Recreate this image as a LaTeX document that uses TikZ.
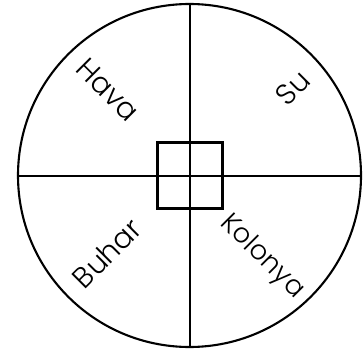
\documentclass[tikz,border=0pt]{standalone}
\usepackage{fontspec}
\newfontfamily\lbl{Poppins Light}
\begin{document}
\begin{tikzpicture}[x=1pt,y=1pt,
  ring/.style={draw, line width=2.1pt},
  axis/.style={draw, line width=2pt},
  box/.style={draw, line width=3pt, minimum size=65pt, inner sep=0pt},
  lab/.style={font=\lbl\fontsize{29}{32}\selectfont, inner sep=0pt}]
\useasboundingbox (0,0) rectangle (364,354);
\coordinate (C) at (189.5,178.5);
\node[circle, ring, minimum size=343pt, inner sep=0pt] (circ) at (C) {};
\draw[axis] (circ.north) -- (circ.south);
\draw[axis] (circ.west) -- (circ.east);
\node[box] (sq) at (C) {};
\node[lab, rotate=-45] (hava) at (108,264) {Hava};
\node[lab, rotate=45] (su) at (293,266) {Su};
\node[lab, rotate=45] (buhar) at (107,101) {Buhar};
\node[lab, rotate=-45, font=\lbl\fontsize{27}{30}\selectfont] (kolonya) at (262,97) {Kolonya};
\end{tikzpicture}
\end{document}
